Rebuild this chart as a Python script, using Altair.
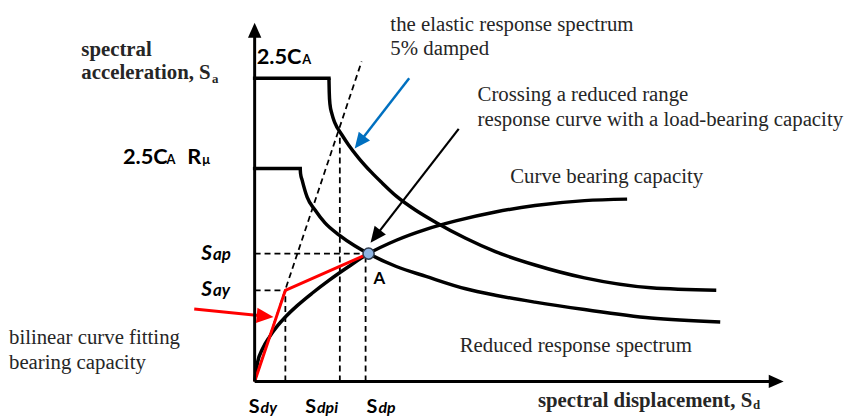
import math
import pandas as pd
import altair as alt

# ---------------- data (schematic units: Sd to the right, Sa upward) ----------------
# elastic response spectrum (5% damped): plateau then descending branch
elastic_sd = [0, 75, 75.3, 76, 78, 81, 88, 95, 105, 118, 128, 143, 163, 183, 213, 243, 283, 333, 400, 466]
elastic_sa = [306, 306, 292, 280, 270, 261, 249, 238.5, 225.5, 211, 201, 187, 172.5, 160.5, 144.5, 131, 117.5, 104.5, 94.5, 92]

# reduced response spectrum
reduced_sd = [0, 46, 46.3, 48, 53, 61, 71, 85, 101, 115, 143, 173, 213, 243, 283, 333, 400, 470]
reduced_sa = [215, 215, 210, 203, 186, 173, 160, 148, 137, 129, 116, 106, 93.5, 87, 80, 72.5, 64, 60]

# capacity (pushover) curve
capacity_sd = [0, 3, 8, 15, 23, 31, 43, 58, 75, 95, 115, 143, 173, 203, 243, 283, 333, 376]
capacity_sa = [0, 19.5, 33, 45, 56, 65, 76.5, 89, 102, 116, 129, 142.5, 153.5, 162, 171, 177.5, 182.5, 184]

# bilinear fit of capacity
bilinear_sd = [0, 31, 115]
bilinear_sa = [0, 92, 129]

# performance point A
point_sd = [115]
point_sa = [129]

# dashed guide lines (start / end)
guide_x1 = [0, 0, 31, 86, 112, 0]
guide_y1 = [129, 92, 0, 0, 0, 0]
guide_x2 = [112, 31, 31, 86, 112, 108]
guide_y2 = [129, 92, 92, 253, 129, 323]

# annotation arrows (tail -> tip)
arrow_x1 = [156, 206, -61]
arrow_y1 = [306, 255, 73]
arrow_x2 = [101, 117, 19]
arrow_y2 = [235, 140, 65]
arrow_colors = ["#0070C0", "#000000", "#FF0000"]
arrow_widths = [2.5, 2.2, 3.0]

# axes (origin -> tip)
axis_x2 = [534, 0]
axis_y2 = [0, 362]

# texts
serif_labels = ["the elastic response spectrum", "5% damped", "Crossing a reduced range",
                "response curve with a load-bearing capacity", "Curve bearing capacity",
                "Reduced response spectrum", "bilinear curve fitting", "bearing capacity"]
serif_x = [137, 137, 225, 225, 258, 207, -248, -248]
serif_y = [354, 330, 283, 258, 200, 30, 38, 13]

title_labels = ["spectral", "acceleration, S", "spectral displacement, S"]
title_x = [-175, -175, 286]
title_y = [329, 305, -26]
title_sub_labels = ["a", "d"]
title_sub_x = [-43, 503]
title_sub_y = [301, -28]

ca_labels = ["2.5C", "2.5C", "R"]
ca_x = [2, -133, -68]
ca_y = [320, 219, 219]
ca_sub_labels = ["A", "A", "μ"]
ca_sub_x = [48, -89, -53]
ca_sub_y = [320, 219, 219]

sa_S_x = [-54, -54]
sa_S_y = [123, 86]
sa_sub_labels = ["ap", "ay"]
sa_sub_x = [-42, -42]
sa_sub_y = [123, 86]

sd_S_x = [-6, 51, 113]
sd_S_y = [-32, -32, -32]
sd_sub_labels = ["dy", "dpi", "dp"]
sd_sub_x = [6, 63, 125]
sd_sub_y = [-32, -32, -32]

point_label = ["A"]
point_label_x = [120]
point_label_y = [98]

# ---------------- chart ----------------
XS = alt.Scale(domain=[0, 534], nice=False, zero=False)
YS = alt.Scale(domain=[0, 362], nice=False, zero=False)
X = alt.X("x:Q", scale=XS, axis=None)
Y = alt.Y("y:Q", scale=YS, axis=None)

SERIF = "Liberation Serif"
SANS = "Lato"


def curve_df(xs, ys, name, start=0):
    return pd.DataFrame({"x": xs[start:], "y": ys[start:], "series": name,
                         "i": list(range(len(xs) - start))})


plateaus = pd.concat([
    curve_df(elastic_sd[:2], elastic_sa[:2], "elastic"),
    curve_df(reduced_sd[:2], reduced_sa[:2], "reduced"),
])
curves = pd.concat([
    curve_df(elastic_sd, elastic_sa, "elastic", 1),
    curve_df(reduced_sd, reduced_sa, "reduced", 1),
    curve_df(capacity_sd, capacity_sa, "capacity"),
])

plateau_layer = alt.Chart(plateaus).mark_line(
    color="black", strokeWidth=3.5, strokeCap="square").encode(
    x=X, y=Y, detail="series:N", order="i:Q")
curve_layer = alt.Chart(curves).mark_line(
    color="black", strokeWidth=3.5, interpolate="monotone").encode(
    x=X, y=Y, detail="series:N", order="i:Q")

bilinear_layer = alt.Chart(pd.DataFrame({"x": bilinear_sd, "y": bilinear_sa,
                                         "i": range(len(bilinear_sd))})).mark_line(
    color="#FF0000", strokeWidth=3).encode(x=X, y=Y, order="i:Q")

guides = pd.DataFrame({"x": guide_x1, "y": guide_y1, "x2": guide_x2, "y2": guide_y2})
guide_layer = alt.Chart(guides).mark_rule(
    color="black", strokeWidth=1.8, strokeDash=[6, 4]).encode(x=X, y=Y, x2="x2:Q", y2="y2:Q")

# axes and arrows
HEAD = "M0,0L-0.45,1L0.45,1Z"


def arrow_frames(x1, y1, x2, y2, colors, widths, lengths):
    shafts, heads = [], []
    for a, b, c, d, col, w, L in zip(x1, y1, x2, y2, colors, widths, lengths):
        dx, dy = c - a, d - b
        n = math.hypot(dx, dy)
        ux, uy = dx / n, dy / n
        ang = math.degrees(math.atan2(dx, dy)) % 360
        shafts.append({"x": a, "y": b, "x2": c - ux * L * 0.7, "y2": d - uy * L * 0.7,
                       "color": col, "w": w})
        heads.append({"x": c, "y": d, "angle": ang, "size": (2 * L) ** 2, "color": col})
    return pd.DataFrame(shafts), pd.DataFrame(heads)


ash, ahd = arrow_frames(arrow_x1, arrow_y1, arrow_x2, arrow_y2, arrow_colors, arrow_widths,
                        [16, 16, 17])
xsh, xhd = arrow_frames([0, 0], [0, 0], axis_x2, axis_y2, ["black", "black"], [3, 3], [15, 15])
shafts = pd.concat([ash, xsh])
heads = pd.concat([ahd, xhd])

shaft_layer = alt.Chart(shafts).mark_rule().encode(
    x=X, y=Y, x2="x2:Q", y2="y2:Q",
    color=alt.Color("color:N", scale=None),
    strokeWidth=alt.StrokeWidth("w:Q", scale=None))
head_layer = alt.Chart(heads).mark_point(shape=HEAD, filled=True, opacity=1, strokeWidth=0).encode(
    x=X, y=Y,
    angle=alt.Angle("angle:Q", scale=None),
    size=alt.Size("size:Q", scale=None),
    color=alt.Color("color:N", scale=None))

point_layer = alt.Chart(pd.DataFrame({"x": point_sd, "y": point_sa})).mark_point(
    shape="circle", filled=True, fill="#8EB4E3", stroke="#2E3B4E", strokeWidth=1.5,
    size=125, opacity=1).encode(x=X, y=Y)


def text_layer(xs, ys, labels, size, font, weight="normal", style="normal", color="black"):
    df = pd.DataFrame({"x": xs, "y": ys, "label": labels})
    return alt.Chart(df).mark_text(
        align="left", baseline="alphabetic", font=font, fontSize=size,
        fontWeight=weight, fontStyle=style, color=color).encode(x=X, y=Y, text="label:N")


texts = [
    text_layer(serif_x, serif_y, serif_labels, 21, SERIF, color="#262626"),
    text_layer(title_x, title_y, title_labels, 21, SERIF, weight="bold", color="#262626"),
    text_layer(title_sub_x, title_sub_y, title_sub_labels, 13, SERIF, weight="bold", color="#262626"),
    text_layer(ca_x, ca_y, ca_labels, 22, SANS, weight="bold"),
    text_layer(ca_sub_x, ca_sub_y, ca_sub_labels, 13, SANS, weight="bold"),
    text_layer(sa_S_x, sa_S_y, ["S", "S"], 21, SANS, weight="bold", style="italic"),
    text_layer(sa_sub_x, sa_sub_y, sa_sub_labels, 17, SANS, weight="bold", style="italic"),
    text_layer(sd_S_x, sd_S_y, ["S", "S", "S"], 20, SANS, weight="bold"),
    text_layer(sd_sub_x, sd_sub_y, sd_sub_labels, 16, SANS, weight="bold", style="italic"),
    text_layer(point_label_x, point_label_y, point_label, 17, SANS, weight="bold"),
]

chart = alt.layer(
    guide_layer, plateau_layer, curve_layer, bilinear_layer,
    shaft_layer, head_layer, point_layer, *texts
).properties(
    width=534, height=362,
    padding={"left": 249, "top": 13, "right": 66, "bottom": 36},
    autosize=alt.AutoSizeParams(type="none"),
).configure_view(stroke=None)

chart.save("out.html", embed_options={"renderer": "svg", "actions": False})
